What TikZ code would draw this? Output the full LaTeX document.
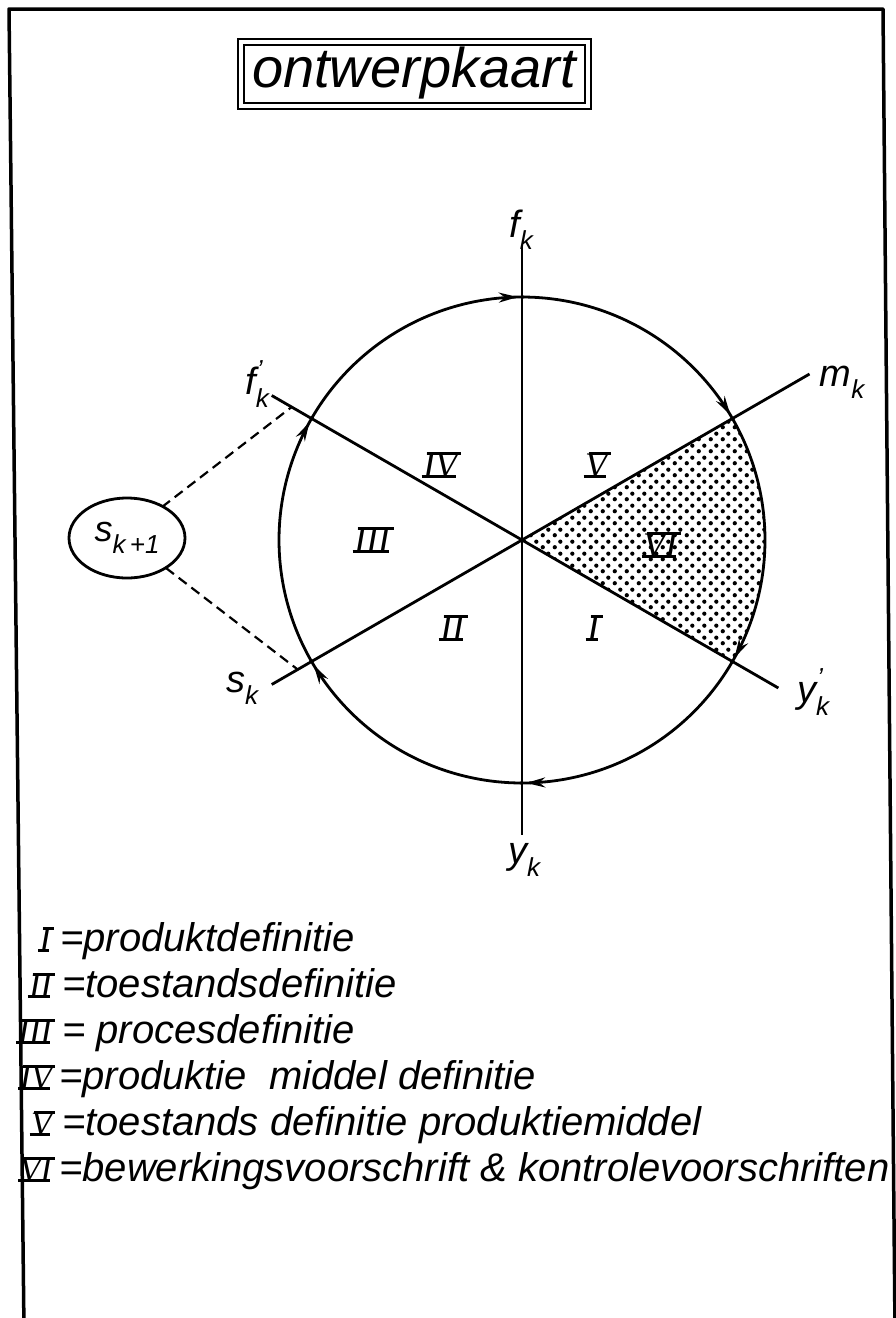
\documentclass[tikz,border=0pt]{standalone}
\usepackage{fontspec}
\setmainfont{Liberation Sans}
\newfontfamily\romf{Liberation Serif}
\usetikzlibrary{arrows.meta,patterns.meta,shapes.geometric,calc}
\tikzdeclarepattern{
  name=bigdots,
  type=uncolored,
  bottom left={(0pt,0pt)},
  top right={(12pt,12pt)},
  tile size={(12pt,12pt)},
  code={\fill (3pt,3pt) circle[radius=2.3pt]; \fill (9pt,9pt) circle[radius=2.3pt];}
}
\newcommand\rnum[1]{\begingroup\setbox0\hbox{\romf\itshape #1}%
  \rlap{\hspace{0.10em}\rule[0.62em]{\wd0}{0.08em}}%
  \rlap{\hspace{-0.04em}\rule[-0.02em]{\wd0}{0.08em}}\box0\endgroup}
\newcommand\subl[2]{#1\raisebox{-0.32em}{\fontsize{26}{28}\selectfont #2}}
\newcommand\subp[2]{#1\raisebox{-0.32em}{\fontsize{26}{28}\selectfont #2}\hspace{-0.32em}\raisebox{0.42em}{\fontsize{26}{28}\selectfont '}}
\begin{document}
\begin{tikzpicture}[x=1pt,y=-1pt,
  ln/.style={line width=2.8pt},
  circarc/.style={line width=2.8pt,-{Stealth[length=19pt,width=10pt]}},
  lbl/.style={font=\fontsize{38}{40}\selectfont\itshape, inner sep=0pt},
  rn/.style={font=\fontsize{36}{40}\selectfont, inner sep=0pt},
  leg/.style={font=\fontsize{40}{44}\selectfont\itshape, inner sep=0pt, anchor=base west},
  legn/.style={font=\fontsize{34}{40}\selectfont, inner sep=0pt, anchor=base east},
  dsh/.style={line width=2.2pt, dash pattern=on 10pt off 6pt},
]
\useasboundingbox (0,0) rectangle (896,1318);
\fill[white] (0,0) rectangle (896,1318);
\draw[line width=3.5pt, line join=round] (24,1330) -- (9,9) -- (883,9) -- (895,1330);

% title
\node[draw, line width=2pt, double, double distance=4pt, minimum width=347, minimum height=64,
      font=\fontsize{56}{60}\selectfont\itshape, inner sep=0pt] (title) at (414,73.5) {ontwerpkaart};

% centre
\coordinate (O) at (522,540);
\def\R{243}
% shaded sector VI
\fill[pattern=bigdots] (O) -- plot[domain=30:-30, samples=40, variable=\t] ({522+\R*cos(\t)},{540-\R*sin(\t)}) -- cycle;

% axes
\coordinate (fT) at (522,245);
\coordinate (yB) at (522,835);
\coordinate (mE) at ({522+332*cos(30)},{540-332*sin(30)});
\coordinate (yE) at ({522+296*cos(30)},{540+296*sin(30)});
\coordinate (fE) at ({522-289*cos(30)},{540-289*sin(30)});
\coordinate (sE) at ({522-289*cos(30)},{540+289*sin(30)});
\draw[ln] (fT) -- (yB);
\draw[ln] (fE) -- (yE);
\draw[ln] (sE) -- (mE);

% circle arcs with arrows (clockwise)
\foreach \a in {150,90,30,-30,-90,-150}{
  \draw[circarc] plot[domain=\a+60:\a+1, samples=40, smooth, variable=\t] ({522+\R*cos(\t)},{540-\R*sin(\t)});
  \draw[line width=2.8pt] plot[domain=\a+2:\a-0.5, samples=5, variable=\t] ({522+\R*cos(\t)},{540-\R*sin(\t)});
}

% axis labels
\node[lbl] (lf) at (521,230) {\subl{f}{k}};
\node[lbl] (lfp) at (254,384) {\subp{f}{k}};
\node[lbl] (lm) at (842,382) {\subl{m}{k}};
\node[lbl] (lyp) at (810,692) {\subp{y}{k}};
\node[lbl] (ls) at (242,688) {\subl{s}{k}};
\node[lbl] (ly) at (524,860) {\subl{y}{k}};

% sector numerals
\node[rn] (r4) at (440,465) {\rnum{IV}};
\node[rn] (r5) at (596,465) {\rnum{V}};
\node[rn] (r3) at (372,540) {\rnum{III}};
\node[rn] (r6) at (660,545) {\rnum{VI}};
\node[rn] (r2) at (452,628) {\rnum{II}};
\node[rn] (r1) at (593,628) {\rnum{I}};

% s_{k+1}
\node[ellipse, draw, line width=2.8pt, minimum width=116, minimum height=80, inner sep=0pt,
      font=\fontsize{36}{40}\selectfont\itshape] (s) at (127,538)
      {s\raisebox{-0.32em}{\fontsize{26}{28}\selectfont k\,+1}};
\coordinate (e1) at (162,507);
\coordinate (e2) at (166,568);
\coordinate (d1) at ({522-266*cos(30)},{540-266*sin(30)});
\coordinate (d2) at ({522-259*cos(30)},{540+259*sin(30)});
\draw[dsh] (e1) -- (d1);
\draw[dsh] (e2) -- (d2);

% legend
\node[legn] (n1) at (51,951) {\rnum{I}};
\node[leg] (t1) at (60,951) {=produktdefinitie};
\node[legn] (n2) at (52,997) {\rnum{II}};
\node[leg] (t2) at (62,997) {=toestandsdefinitie};
\node[legn] (n3) at (52,1043) {\rnum{III}};
\node[leg] (t3) at (62,1043) {= procesdefinitie};
\node[legn] (n4) at (52,1089) {\rnum{IV}};
\node[leg] (t4) at (59,1089) {=produktie\ \ middel definitie};
\node[legn] (n5) at (52,1135) {\rnum{V}};
\node[leg] (t5) at (62,1135) {=toestands definitie produktiemiddel};
\node[legn] (n6) at (52,1181) {\rnum{VI}};
\node[leg] (t6) at (59,1181) {=bewerkingsvoorschrift \& kontrolevoorschriften};
\end{tikzpicture}
\end{document}
